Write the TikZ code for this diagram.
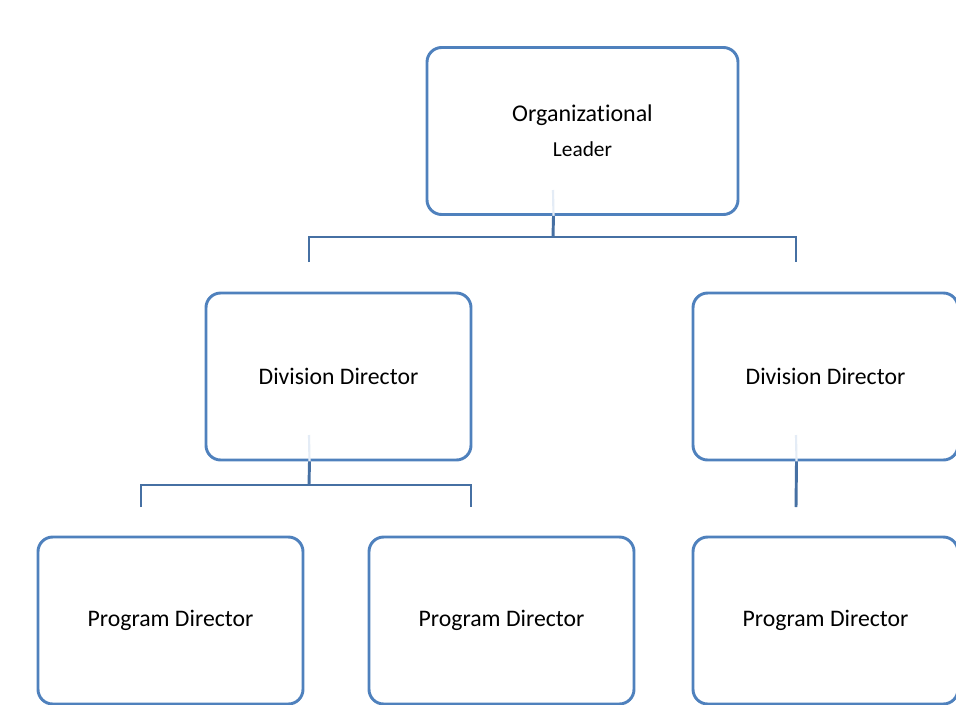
\documentclass[tikz,border=0pt]{standalone}
\usepackage{fontspec}
\setmainfont[Ligatures=NoCommon]{Carlito}
\usepackage{xcolor}
\definecolor{boxBlue}{RGB}{79, 129, 189}
\definecolor{lineBlue}{RGB}{70, 112, 163}
\definecolor{ghostBlue}{RGB}{228, 236, 246}
\usepackage{tikz}
\usetikzlibrary{positioning}

\tikzset{
  rolebox/.style={draw=boxBlue, line width=2.2pt, rounded corners=11pt, fill=white,
    minimum width=198.75pt, minimum height=125.25pt, align=center,
    font=\fontsize{17.8}{22}\selectfont},
  link/.style={draw=lineBlue, line width=2.2pt},
  ghost/.style={draw=ghostBlue, line width=1.6pt}
}

\begin{document}
\begin{tikzpicture}[x=0.75pt, y=-0.75pt]
\useasboundingbox (0,0) rectangle (956,704);

% boxes
\node[rolebox, minimum width=233.25pt, font=\fontsize{18}{23}\selectfont] (lead) at (582.5,131) {Organizational\\[3.5pt]{\fontsize{16}{19}\selectfont Leader}};
\node[rolebox] (divL) at (338.5,376.5) {Division Director};
\node[rolebox] (divR) at (825.5,376.5) {Division Director};
\node[rolebox] (progA) at (170.5,620.5) {Program Director};
\node[rolebox] (progB) at (501.5,620.5) {Program Director};
\node[rolebox] (progC) at (825.5,620.5) {Program Director};

% faint ends inside the boxes
\draw[ghost] (553,190) -- ([xshift=-21.75pt]lead.south);
\draw[ghost] (309,435) -- ([xshift=-21.75pt]divL.south);
\draw[ghost] (796,435) -- ([xshift=-21.75pt]divR.south);

% connectors
\coordinate (hubA) at (553,237);
\coordinate (stubA1) at (309,262);
\coordinate (stubA2) at (796,262);
\draw[link] ([xshift=-21.75pt]lead.south) -- (hubA);
\draw[link] (stubA1) |- (hubA) -| (stubA2);

\coordinate (hubB) at (309,485);
\coordinate (stubB1) at (141,507);
\coordinate (stubB2) at (471,507);
\draw[link] ([xshift=-21.75pt]divL.south) -- (hubB);
\draw[link] (stubB1) |- (hubB) -| (stubB2);

\coordinate (stubC) at (796,507);
\draw[link] ([xshift=-21.75pt]divR.south) -- (stubC);
\end{tikzpicture}
\end{document}
